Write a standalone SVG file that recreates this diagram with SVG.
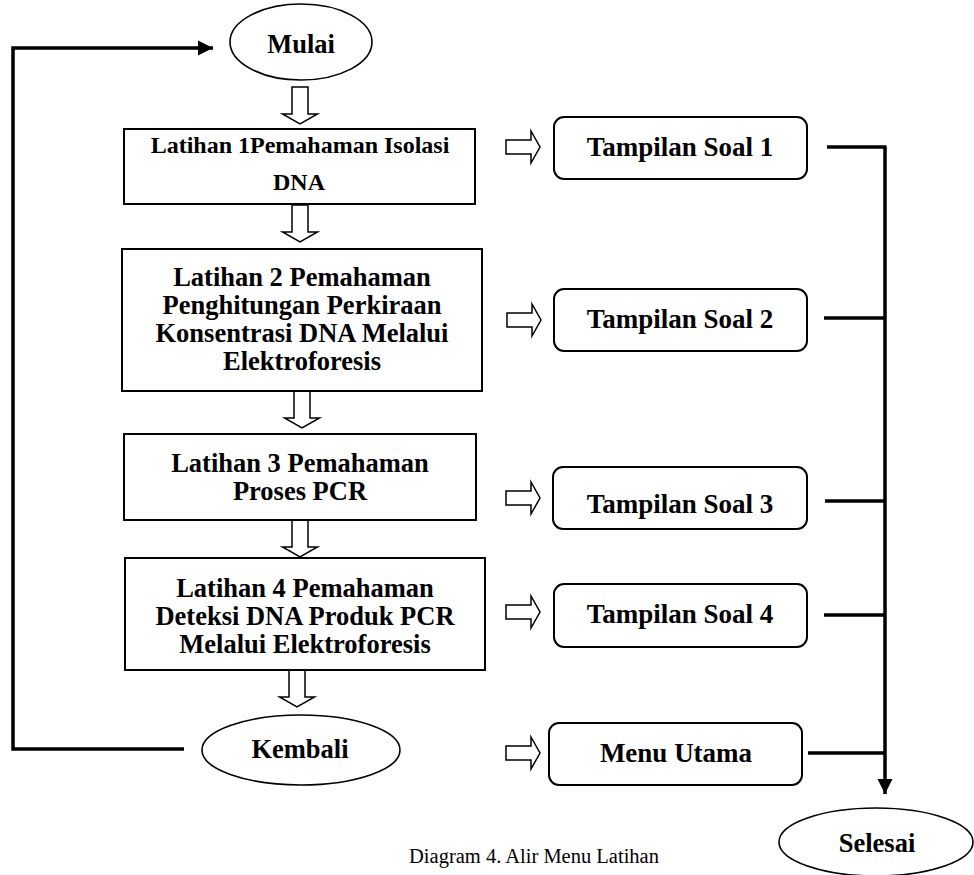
<svg xmlns="http://www.w3.org/2000/svg" width="974" height="875" viewBox="0 0 974 875">
  <style>
    .box { fill: #ffffff; stroke: #000000; stroke-width: 2; }
    .term { fill: #ffffff; stroke: #000000; stroke-width: 1.6; }
    .blk { fill: #ffffff; stroke: #000000; stroke-width: 1.5; stroke-linejoin: miter; }
    .wire { fill: none; stroke: #000000; stroke-width: 3.5; }
    .lbl { font-family: "Liberation Serif", "Times New Roman", serif; font-weight: bold; font-size: 26.5px; fill: #000000; text-anchor: middle; }
    .lbl1 { font-size: 24px; }
    .lbl2 { font-size: 27px; }
    .cap { font-family: "Liberation Serif", "Times New Roman", serif; font-size: 20.5px; fill: #000000; text-anchor: middle; }
  </style>
  <defs>
    <marker id="head" viewBox="0 0 10 10" refX="10" refY="5" markerWidth="4.4" markerHeight="4.4" orient="auto" markerUnits="strokeWidth">
      <path d="M0,0 L10,5 L0,10 Z" fill="#000000"/>
    </marker>
    <!-- hollow block arrow pointing down, origin at top centre -->
    <path id="down" d="M-8,0 L8,0 L8,27 L17.5,27 L0,37 L-17.5,27 L-8,27 Z"/>
    <!-- hollow block arrow pointing right, origin at left centre -->
    <path id="right" d="M0,-7 L25,-7 L25,-16 L34,0 L25,16 L25,7 L0,7 Z"/>
  </defs>

  <!-- connectors -->
  <g id="connectors">
    <polyline class="wire" points="184,749 13,749 13,48 213,48" marker-end="url(#head)"/>
    <line class="wire" x1="885" y1="147" x2="885" y2="794" marker-end="url(#head)"/>
    <line class="wire" x1="827" y1="147" x2="886.5" y2="147"/>
    <line class="wire" x1="824" y1="318" x2="885" y2="318"/>
    <line class="wire" x1="825" y1="501" x2="885" y2="501"/>
    <line class="wire" x1="824" y1="615" x2="885" y2="615"/>
    <line class="wire" x1="808" y1="753" x2="885" y2="753"/>
    <use href="#down" class="blk" x="300" y="87"/>
    <use href="#down" class="blk" x="300" y="205"/>
    <use href="#down" class="blk" x="302" y="391"/>
    <use href="#down" class="blk" x="300" y="520"/>
    <use href="#down" class="blk" x="297" y="670"/>
    <use href="#right" class="blk" x="506" y="147"/>
    <use href="#right" class="blk" x="507" y="320"/>
    <use href="#right" class="blk" x="506" y="498"/>
    <use href="#right" class="blk" x="506" y="612"/>
    <use href="#right" class="blk" x="506" y="753"/>
  </g>

  <g id="mulai">
    <ellipse class="term" cx="301" cy="42" rx="71" ry="38"/>
    <text class="lbl" x="301" y="53">Mulai</text>
  </g>

  <g id="latihan1">
    <rect class="box" x="124" y="129" width="351" height="75"/>
    <text class="lbl lbl1" x="300" y="153">Latihan 1Pemahaman Isolasi</text>
    <text class="lbl lbl1" x="299" y="190">DNA</text>
  </g>

  <g id="latihan2">
    <rect class="box" x="122" y="249" width="360" height="142"/>
    <text class="lbl" x="302" y="286">Latihan 2 Pemahaman</text>
    <text class="lbl" x="302" y="314">Penghitungan Perkiraan</text>
    <text class="lbl" x="302" y="342">Konsentrasi DNA Melalui</text>
    <text class="lbl" x="302" y="370">Elektroforesis</text>
  </g>

  <g id="latihan3">
    <rect class="box" x="124" y="434" width="352" height="86"/>
    <text class="lbl" x="300" y="472">Latihan 3 Pemahaman</text>
    <text class="lbl" x="300" y="500">Proses PCR</text>
  </g>

  <g id="latihan4">
    <rect class="box" x="125" y="558" width="360" height="112"/>
    <text class="lbl" x="305" y="597">Latihan 4 Pemahaman</text>
    <text class="lbl" x="305" y="625">Deteksi DNA Produk PCR</text>
    <text class="lbl" x="305" y="653">Melalui Elektroforesis</text>
  </g>

  <g id="kembali">
    <ellipse class="term" cx="301" cy="750" rx="99" ry="35"/>
    <text class="lbl" x="300" y="758">Kembali</text>
  </g>

  <g id="soal1">
    <rect class="box" x="554" y="117" width="253" height="62" rx="10"/>
    <text class="lbl lbl2" x="680" y="156">Tampilan Soal 1</text>
  </g>

  <g id="soal2">
    <rect class="box" x="554" y="289" width="253" height="62" rx="10"/>
    <text class="lbl lbl2" x="680" y="328">Tampilan Soal 2</text>
  </g>

  <g id="soal3">
    <rect class="box" x="553" y="467" width="254" height="62" rx="10"/>
    <text class="lbl lbl2" x="680" y="513">Tampilan Soal 3</text>
  </g>

  <g id="soal4">
    <rect class="box" x="554" y="584" width="253" height="63" rx="10"/>
    <text class="lbl lbl2" x="680" y="623">Tampilan Soal 4</text>
  </g>

  <g id="menu-utama">
    <rect class="box" x="549" y="723" width="253" height="62" rx="10"/>
    <text class="lbl lbl2" x="676" y="762">Menu Utama</text>
  </g>

  <g id="selesai">
    <ellipse class="term" cx="876" cy="842" rx="97" ry="34"/>
    <text class="lbl" x="877" y="852">Selesai</text>
  </g>

  <text class="cap" x="534" y="863">Diagram 4. Alir Menu Latihan</text>
</svg>
